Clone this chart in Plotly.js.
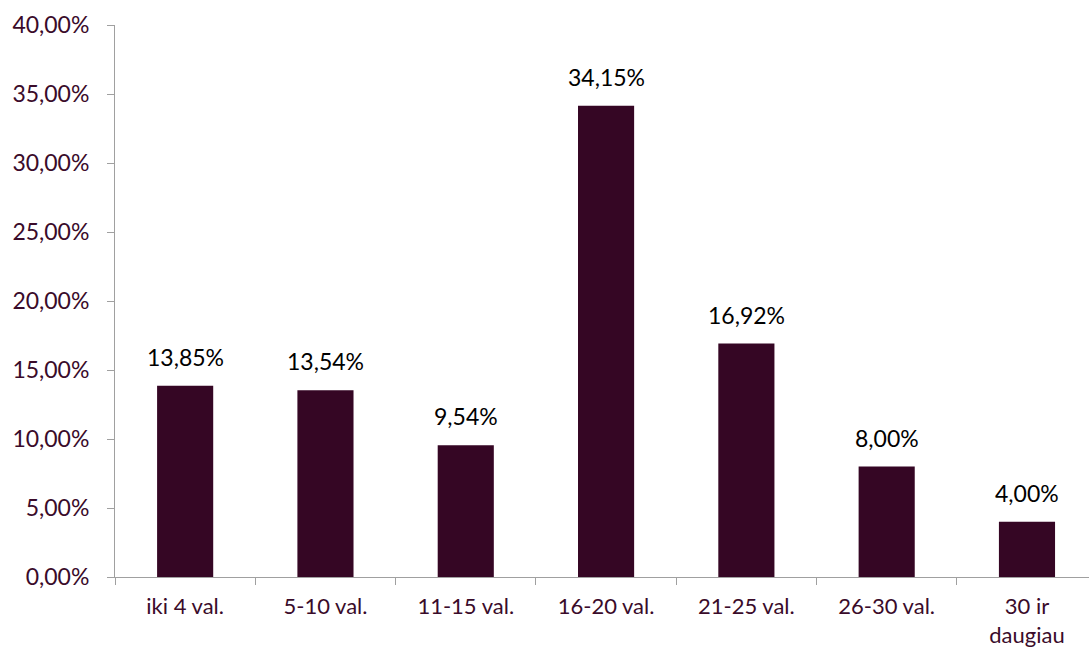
<!DOCTYPE html>
<html>
<head>
<meta charset="utf-8">
<script src="https://cdn.plot.ly/plotly-3.0.1.min.js"></script>
<style>html,body{margin:0;padding:0;background:#fff;}#chart{width:1089px;height:657px;}</style>
</head>
<body>
<div id="chart"></div>
<script>
const categories = ["iki 4 val.", "5-10 val.", "11-15 val.", "16-20 val.", "21-25 val.", "26-30 val.", "30 ir<br>daugiau"];
const shares = [13.85, 13.54, 9.54, 34.15, 16.92, 8.00, 4.00];
const yTicks = [0, 5, 10, 15, 20, 25, 30, 35, 40];

const barColor = "#350624";
const textColor = "#3a0b2a";
const fontFamily = "Lato, 'Open Sans', sans-serif";

const annotations = categories.map((c, i) => ({
  x: c, y: shares[i], xref: "x", yref: "y",
  text: shares[i].toFixed(2).replace(".", ",") + "%",
  showarrow: false, yanchor: "bottom", yshift: 13,
  font: {family: fontFamily, size: 23, color: "#000000"}
}));

Plotly.newPlot("chart", [{
  type: "bar",
  x: categories,
  y: shares,
  marker: {color: barColor},
  hoverinfo: "skip"
}], {
  width: 1089, height: 657,
  margin: {l: 115, r: 0, t: 25, b: 80},
  paper_bgcolor: "#ffffff", plot_bgcolor: "#ffffff",
  bargap: 0.6,
  separators: ", ",
  showlegend: false,
  font: {family: fontFamily, size: 22, color: textColor},
  xaxis: {
    type: "category",
    range: [-0.5, 6.442],
    showline: true, linecolor: "#a0a0a0", linewidth: 1,
    ticks: "outside", ticklen: 7, tickcolor: "#a0a0a0",
    tickson: "boundaries",
    ticklabelstandoff: 10,
    showgrid: false, zeroline: false,
    tickfont: {family: fontFamily, size: 22, color: textColor}
  },
  yaxis: {
    range: [0, 40],
    tickvals: yTicks,
    ticktext: yTicks.map(v => v.toFixed(2).replace(".", ",") + "%"),
    showline: true, linecolor: "#a0a0a0", linewidth: 1,
    ticks: "outside", ticklen: 7, tickcolor: "#a0a0a0",
    ticklabelstandoff: 13,
    showgrid: false, zeroline: false,
    tickfont: {family: fontFamily, size: 23, color: textColor}
  },
  annotations: annotations
}, {staticPlot: true});
</script>
</body>
</html>
